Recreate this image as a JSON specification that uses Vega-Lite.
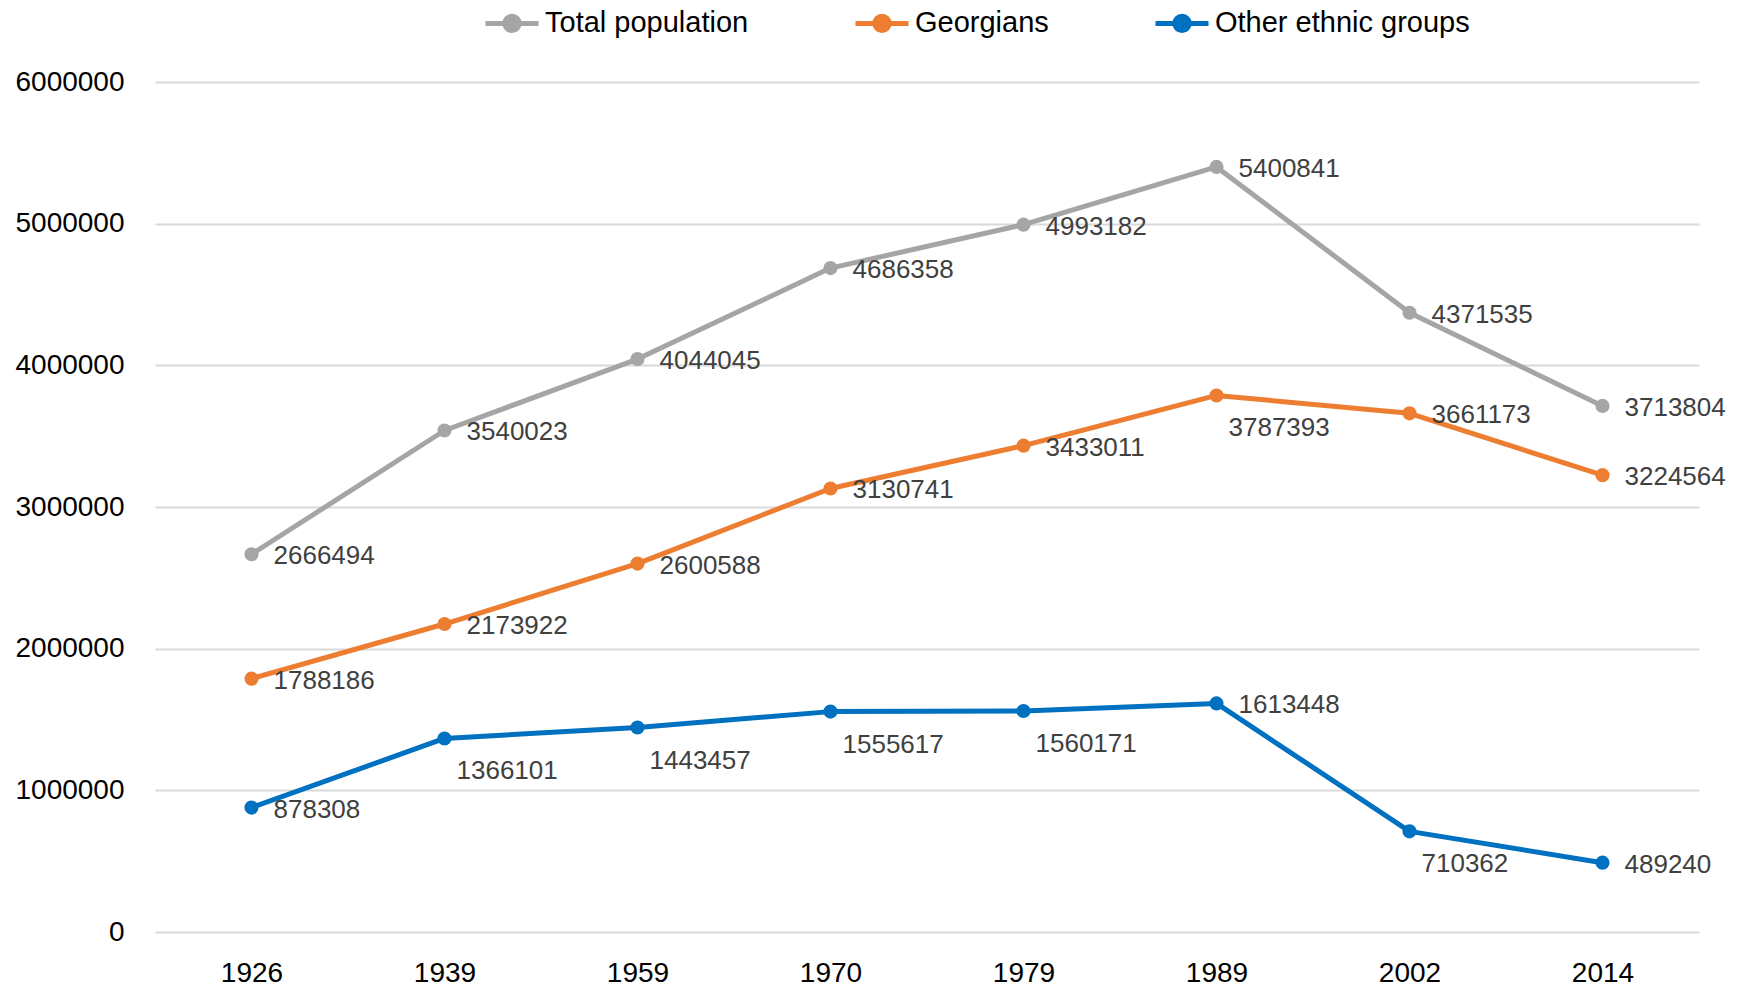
{
  "$schema": "https://vega.github.io/schema/vega-lite/v6.json",
  "width": 1544,
  "height": 850,
  "autosize": {"type": "none"},
  "padding": {"left": 155, "top": 82, "right": 40, "bottom": 57},
  "background": "white",
  "config": {
    "view": {"stroke": null},
    "font": "Liberation Sans"
  },
  "data": {
    "values": [
      {"year": "1926", "group": "Total population", "value": 2666494},
      {"year": "1939", "group": "Total population", "value": 3540023},
      {"year": "1959", "group": "Total population", "value": 4044045},
      {"year": "1970", "group": "Total population", "value": 4686358},
      {"year": "1979", "group": "Total population", "value": 4993182},
      {"year": "1989", "group": "Total population", "value": 5400841},
      {"year": "2002", "group": "Total population", "value": 4371535},
      {"year": "2014", "group": "Total population", "value": 3713804},
      {"year": "1926", "group": "Georgians", "value": 1788186},
      {"year": "1939", "group": "Georgians", "value": 2173922},
      {"year": "1959", "group": "Georgians", "value": 2600588},
      {"year": "1970", "group": "Georgians", "value": 3130741},
      {"year": "1979", "group": "Georgians", "value": 3433011},
      {"year": "1989", "group": "Georgians", "value": 3787393},
      {"year": "2002", "group": "Georgians", "value": 3661173},
      {"year": "2014", "group": "Georgians", "value": 3224564},
      {"year": "1926", "group": "Other ethnic groups", "value": 878308},
      {"year": "1939", "group": "Other ethnic groups", "value": 1366101},
      {"year": "1959", "group": "Other ethnic groups", "value": 1443457},
      {"year": "1970", "group": "Other ethnic groups", "value": 1555617},
      {"year": "1979", "group": "Other ethnic groups", "value": 1560171},
      {"year": "1989", "group": "Other ethnic groups", "value": 1613448},
      {"year": "2002", "group": "Other ethnic groups", "value": 710362},
      {"year": "2014", "group": "Other ethnic groups", "value": 489240}
    ]
  },
  "encoding": {
    "x": {
      "field": "year", "type": "ordinal",
      "scale": {"type": "point", "padding": 0.5},
      "axis": {"title": null, "labelAngle": 0, "domain": false, "ticks": false, "grid": false,
               "labelFontSize": 28, "labelColor": "#000000", "labelPadding": 27}
    },
    "y": {
      "field": "value", "type": "quantitative",
      "scale": {"domain": [0, 6000000], "nice": false},
      "axis": {"title": null, "values": [0, 1000000, 2000000, 3000000, 4000000, 5000000, 6000000],
               "format": "d", "domain": false, "ticks": false, "grid": true,
               "gridColor": "#d9d9d9", "gridWidth": 2, "labelFontSize": 28,
               "labelColor": "#000000", "labelPadding": 31}
    }
  },
  "layer": [
    {
      "mark": {"type": "line", "strokeWidth": 5, "strokeJoin": "round"},
      "encoding": {
        "color": {
          "field": "group", "type": "nominal",
          "scale": {"domain": ["Total population", "Georgians", "Other ethnic groups"],
                    "range": ["#a5a5a5", "#ed7d31", "#0070c0"]},
          "legend": {
            "title": null, "orient": "none", "direction": "horizontal",
            "legendX": 328, "legendY": -88,
            "symbolType": "M-1,0H1M-0.27,0A0.27,0.27 0 1,0 0.27,0A0.27,0.27 0 1,0 -0.27,0",
            "symbolSize": 2809, "symbolStrokeWidth": 5,
            "labelFontSize": 29, "labelColor": "#000000", "labelOffset": 4,
            "columnPadding": 96, "labelLimit": 400,
            "encode": {"symbols": {"update": {
              "fill": {"scale": "color", "field": "value"},
              "stroke": {"scale": "color", "field": "value"}
            }}}
          }
        }
      }
    },
    {
      "mark": {"type": "point", "filled": true, "opacity": 1, "size": 200},
      "encoding": {
        "color": {"field": "group", "type": "nominal", "legend": null}
      }
    },
    {
      "transform": [{"filter": "!((datum.group == 'Georgians' && datum.year == '1989') || (datum.group == 'Other ethnic groups' && indexof(['1939','1959','1970','1979','2002'], datum.year) >= 0))"}],
      "mark": {"type": "text", "align": "left", "baseline": "middle", "dx": 22, "dy": 2, "fontSize": 26, "color": "#404040"},
      "encoding": {"text": {"field": "value", "type": "quantitative", "format": "d"}}
    },
    {
      "transform": [{"filter": "(datum.group == 'Georgians' && datum.year == '1989') || (datum.group == 'Other ethnic groups' && indexof(['1939','1959','1970','1979','2002'], datum.year) >= 0)"}],
      "mark": {"type": "text", "align": "left", "baseline": "middle", "dx": 12, "dy": 33, "fontSize": 26, "color": "#404040"},
      "encoding": {"text": {"field": "value", "type": "quantitative", "format": "d"}}
    }
  ]
}
